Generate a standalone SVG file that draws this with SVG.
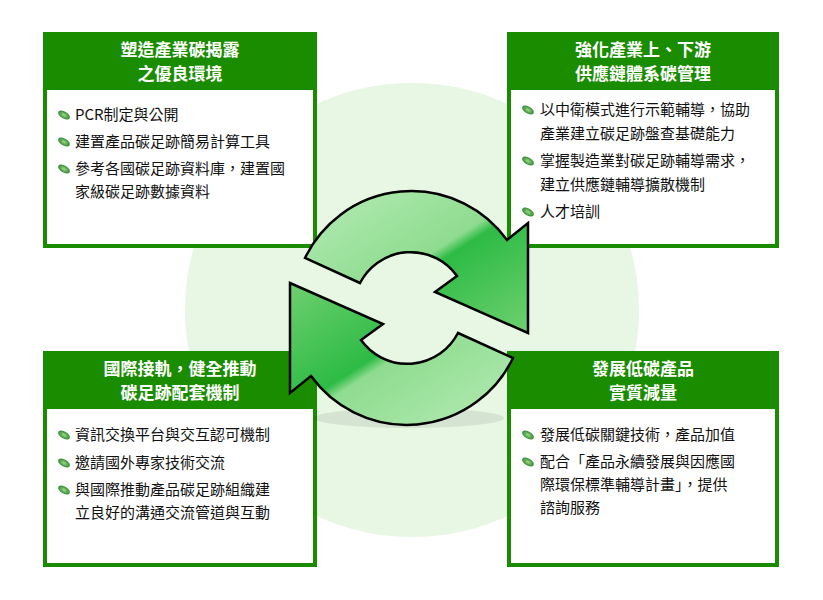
<svg xmlns="http://www.w3.org/2000/svg" width="823" height="600" viewBox="0 0 823 600">
<style>
.box{fill:#fff;stroke:#1a8c00;stroke-width:4}
.hd{fill:#1a8c00}
.ht{fill:#fff;font:bold 17px "Noto Sans CJK TC","Noto Sans CJK SC",sans-serif;text-anchor:middle}
.t{fill:#111;font:15px "Noto Sans CJK TC","Noto Sans CJK SC",sans-serif}
.arr{fill:url(#g);stroke:#000;stroke-width:2.5;stroke-linejoin:miter}
</style>
<defs>
<linearGradient id="g" x1="0" y1="0" x2="1" y2="1">
<stop offset="0" stop-color="#b5ebb5"/><stop offset="0.5" stop-color="#8fdc90"/><stop offset="0.55" stop-color="#2dbb45"/><stop offset="1" stop-color="#6fd06f"/>
</linearGradient>
<radialGradient id="lg"><stop offset="0" stop-color="#9fd88a"/><stop offset="1" stop-color="#2f8a2f"/></radialGradient>
<g id="leaf"><ellipse cx="0" cy="0" rx="6.5" ry="3.5" transform="rotate(30)" fill="url(#lg)"/></g>
</defs>
<rect width="823" height="600" fill="#fff"/>
<circle cx="412" cy="310" r="227" fill="#e8f7e4"/>
<g id="n1">
<rect class="box" x="45" y="34" width="270" height="212"/>
<rect class="hd" x="43" y="32" width="274" height="58"/>
<text class="ht" x="180" y="56">塑造產業碳揭露</text>
<text class="ht" x="180" y="80">之優良環境</text>
<use href="#leaf" x="64" y="115"/><text class="t" x="75" y="120">PCR制定與公開</text>
<use href="#leaf" x="64" y="142"/><text class="t" x="75" y="147">建置產品碳足跡簡易計算工具</text>
<use href="#leaf" x="64" y="169"/><text class="t" x="75" y="174">參考各國碳足跡資料庫，建置國</text>
<text class="t" x="75" y="197">家級碳足跡數據資料</text>
</g>
<g id="n2">
<rect class="box" x="509" y="34" width="268" height="212"/>
<rect class="hd" x="507" y="32" width="272" height="58"/>
<text class="ht" x="643" y="56">強化產業上、下游</text>
<text class="ht" x="643" y="80">供應鏈體系碳管理</text>
<use href="#leaf" x="528" y="110"/><text class="t" x="540" y="115">以中衛模式進行示範輔導，協助</text>
<text class="t" x="540" y="139">產業建立碳足跡盤查基礎能力</text>
<use href="#leaf" x="528" y="161"/><text class="t" x="540" y="166">掌握製造業對碳足跡輔導需求，</text>
<text class="t" x="540" y="190">建立供應鏈輔導擴散機制</text>
<use href="#leaf" x="528" y="212"/><text class="t" x="540" y="217">人才培訓</text>
</g>
<g id="n3">
<rect class="box" x="45" y="353" width="270" height="212"/>
<rect class="hd" x="43" y="351" width="274" height="58"/>
<text class="ht" x="180" y="375">國際接軌，健全推動</text>
<text class="ht" x="180" y="399">碳足跡配套機制</text>
<use href="#leaf" x="64" y="435"/><text class="t" x="75" y="440">資訊交換平台與交互認可機制</text>
<use href="#leaf" x="64" y="463"/><text class="t" x="75" y="468">邀請國外專家技術交流</text>
<use href="#leaf" x="64" y="490"/><text class="t" x="75" y="495">與國際推動產品碳足跡組織建</text>
<text class="t" x="75" y="518">立良好的溝通交流管道與互動</text>
</g>
<g id="n4">
<rect class="box" x="509" y="353" width="268" height="212"/>
<rect class="hd" x="507" y="351" width="272" height="58"/>
<text class="ht" x="643" y="375">發展低碳產品</text>
<text class="ht" x="643" y="399">實質減量</text>
<use href="#leaf" x="528" y="435"/><text class="t" x="540" y="440">發展低碳關鍵技術，產品加值</text>
<use href="#leaf" x="528" y="462"/><text class="t" x="540" y="467">配合「產品永續發展與因應國</text>
<text class="t" x="540" y="490">際環保標準輔導計畫」，提供</text>
<text class="t" x="540" y="513">諮詢服務</text>
</g>
<g id="connectors">
<ellipse cx="409" cy="418" rx="95" ry="10" fill="#000" opacity="0.08"/>
<path class="arr" d="M305,258 A118,118 0 0 1 507,240 L528,223 L528,333 L435,292 L457,276 A57,57 0 0 0 360,283 Z"/>
<path class="arr" transform="rotate(180 409 308)" d="M305,258 A118,118 0 0 1 507,240 L528,223 L528,333 L435,292 L457,276 A57,57 0 0 0 360,283 Z"/>
</g>
</svg>
